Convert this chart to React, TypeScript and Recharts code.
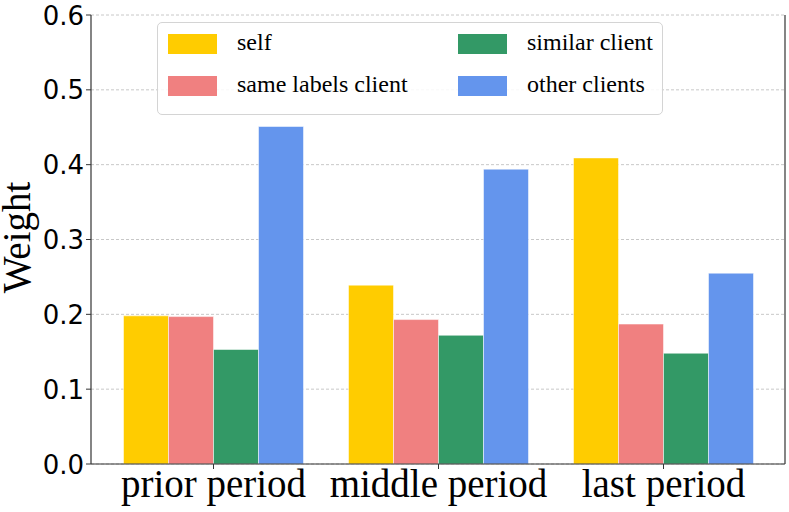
import React from "react";
import {
  BarChart,
  Bar,
  XAxis,
  YAxis,
  CartesianGrid,
  Legend,
} from "recharts";

const periods = ["prior period", "middle period", "last period"];
const selfWeights = [0.198, 0.239, 0.409];
const sameLabelsWeights = [0.197, 0.193, 0.187];
const similarWeights = [0.153, 0.172, 0.148];
const otherWeights = [0.451, 0.394, 0.255];
const yTicks = [0, 0.1, 0.2, 0.3, 0.4, 0.5, 0.6];

const series = [
  { key: "self", name: "self", color: "#FFCC00" },
  { key: "sameLabels", name: "same labels client", color: "#F08080" },
  { key: "similar", name: "similar client", color: "#339966" },
  { key: "other", name: "other clients", color: "#6495ED" },
];

const data = periods.map((period, i) => ({
  period,
  self: selfWeights[i],
  sameLabels: sameLabelsWeights[i],
  similar: similarWeights[i],
  other: otherWeights[i],
}));

const serif = "'Liberation Serif', 'Times New Roman', serif";
const sans = "'DejaVu Sans', sans-serif";

function XTick({ x, y, payload }: any) {
  return (
    <text
      x={x}
      y={y + 28}
      textAnchor="middle"
      fontFamily={serif}
      fontSize={39}
      fill="#000"
    >
      {payload.value}
    </text>
  );
}

function YTick({ x, y, payload }: any) {
  return (
    <text
      x={x - 2}
      y={y + 9.5}
      textAnchor="end"
      fontFamily={sans}
      fontSize={26}
      fill="#000"
    >
      {payload.value.toFixed(1)}
    </text>
  );
}

function YLabel({ viewBox }: any) {
  const cy = viewBox.y + viewBox.height / 2 - 2;
  return (
    <text
      transform={`translate(30, ${cy}) rotate(-90)`}
      textAnchor="middle"
      fontFamily={serif}
      fontSize={39}
      fill="#000"
    >
      Weight
    </text>
  );
}

function LegendBox() {
  // column-major, two columns
  const cols = [series.slice(0, 2), series.slice(2, 4)];
  const colX = [10, 300];
  const textX = [79, 369];
  return (
    <div
      style={{
        position: "relative",
        width: 506,
        height: 93,
        boxSizing: "border-box",
        border: "1px solid #d4d4d4",
        borderRadius: 5,
        background: "rgba(255,255,255,0.85)",
      }}
    >
      {cols.map((col, c) =>
        col.map((s, r) => (
          <React.Fragment key={s.key}>
            <div
              style={{
                position: "absolute",
                left: colX[c],
                top: 11 + r * 42,
                width: 49,
                height: 20,
                background: s.color,
              }}
            />
            <div
              style={{
                position: "absolute",
                left: textX[c],
                top: 4 + r * 42,
                fontFamily: serif,
                fontSize: 24,
                lineHeight: "30px",
                color: "#000",
                whiteSpace: "nowrap",
              }}
            >
              {s.name}
            </div>
          </React.Fragment>
        ))
      )}
    </div>
  );
}

export default function App() {
  return (
    <div style={{ width: 789, height: 512, background: "#fff" }}>
      <style>{`body{margin:0}`}</style>
      <BarChart
        width={789}
        height={512}
        data={data}
        margin={{ top: 15, right: 3, left: 0, bottom: 0 }}
        barCategoryGap="10%"
        barGap={0}
      >
        <CartesianGrid
          vertical={false}
          stroke="#c8c8c8"
          strokeDasharray="3 2"
        />
        <XAxis
          dataKey="period"
          height={48}
          padding={{ left: 10, right: 9 }}
          interval={0}
          tick={<XTick />}
          tickSize={5}
          tickMargin={0}
          axisLine={{ stroke: "#333", strokeWidth: 1.2 }}
          tickLine={{ stroke: "#333" }}
        />
        <XAxis
          xAxisId="top"
          orientation="top"
          dataKey="period"
          height={0}
          tick={false}
          tickLine={false}
          axisLine={{ stroke: "#333", strokeWidth: 1.2 }}
        />
        <YAxis
          width={91}
          domain={[0, 0.6]}
          ticks={yTicks}
          tick={<YTick />}
          tickSize={5}
          tickMargin={0}
          axisLine={{ stroke: "#333", strokeWidth: 1.2 }}
          tickLine={{ stroke: "#333" }}
          label={<YLabel />}
        />
        <YAxis
          yAxisId="right"
          orientation="right"
          width={1}
          domain={[0, 0.6]}
          tick={false}
          tickLine={false}
          axisLine={{ stroke: "#333", strokeWidth: 1.2 }}
        />
        <Legend
          verticalAlign="middle"
          align="center"
          layout="horizontal"
          wrapperStyle={{ left: 157, top: 22, width: 506, height: 93 }}
          content={() => <LegendBox />}
        />
        {series.map((s) => (
          <Bar
            key={s.key}
            dataKey={s.key}
            name={s.name}
            fill={s.color}
            stroke="#ffffff"
            strokeOpacity={0.5}
            strokeWidth={1}
            isAnimationActive={false}
          />
        ))}
      </BarChart>
    </div>
  );
}
